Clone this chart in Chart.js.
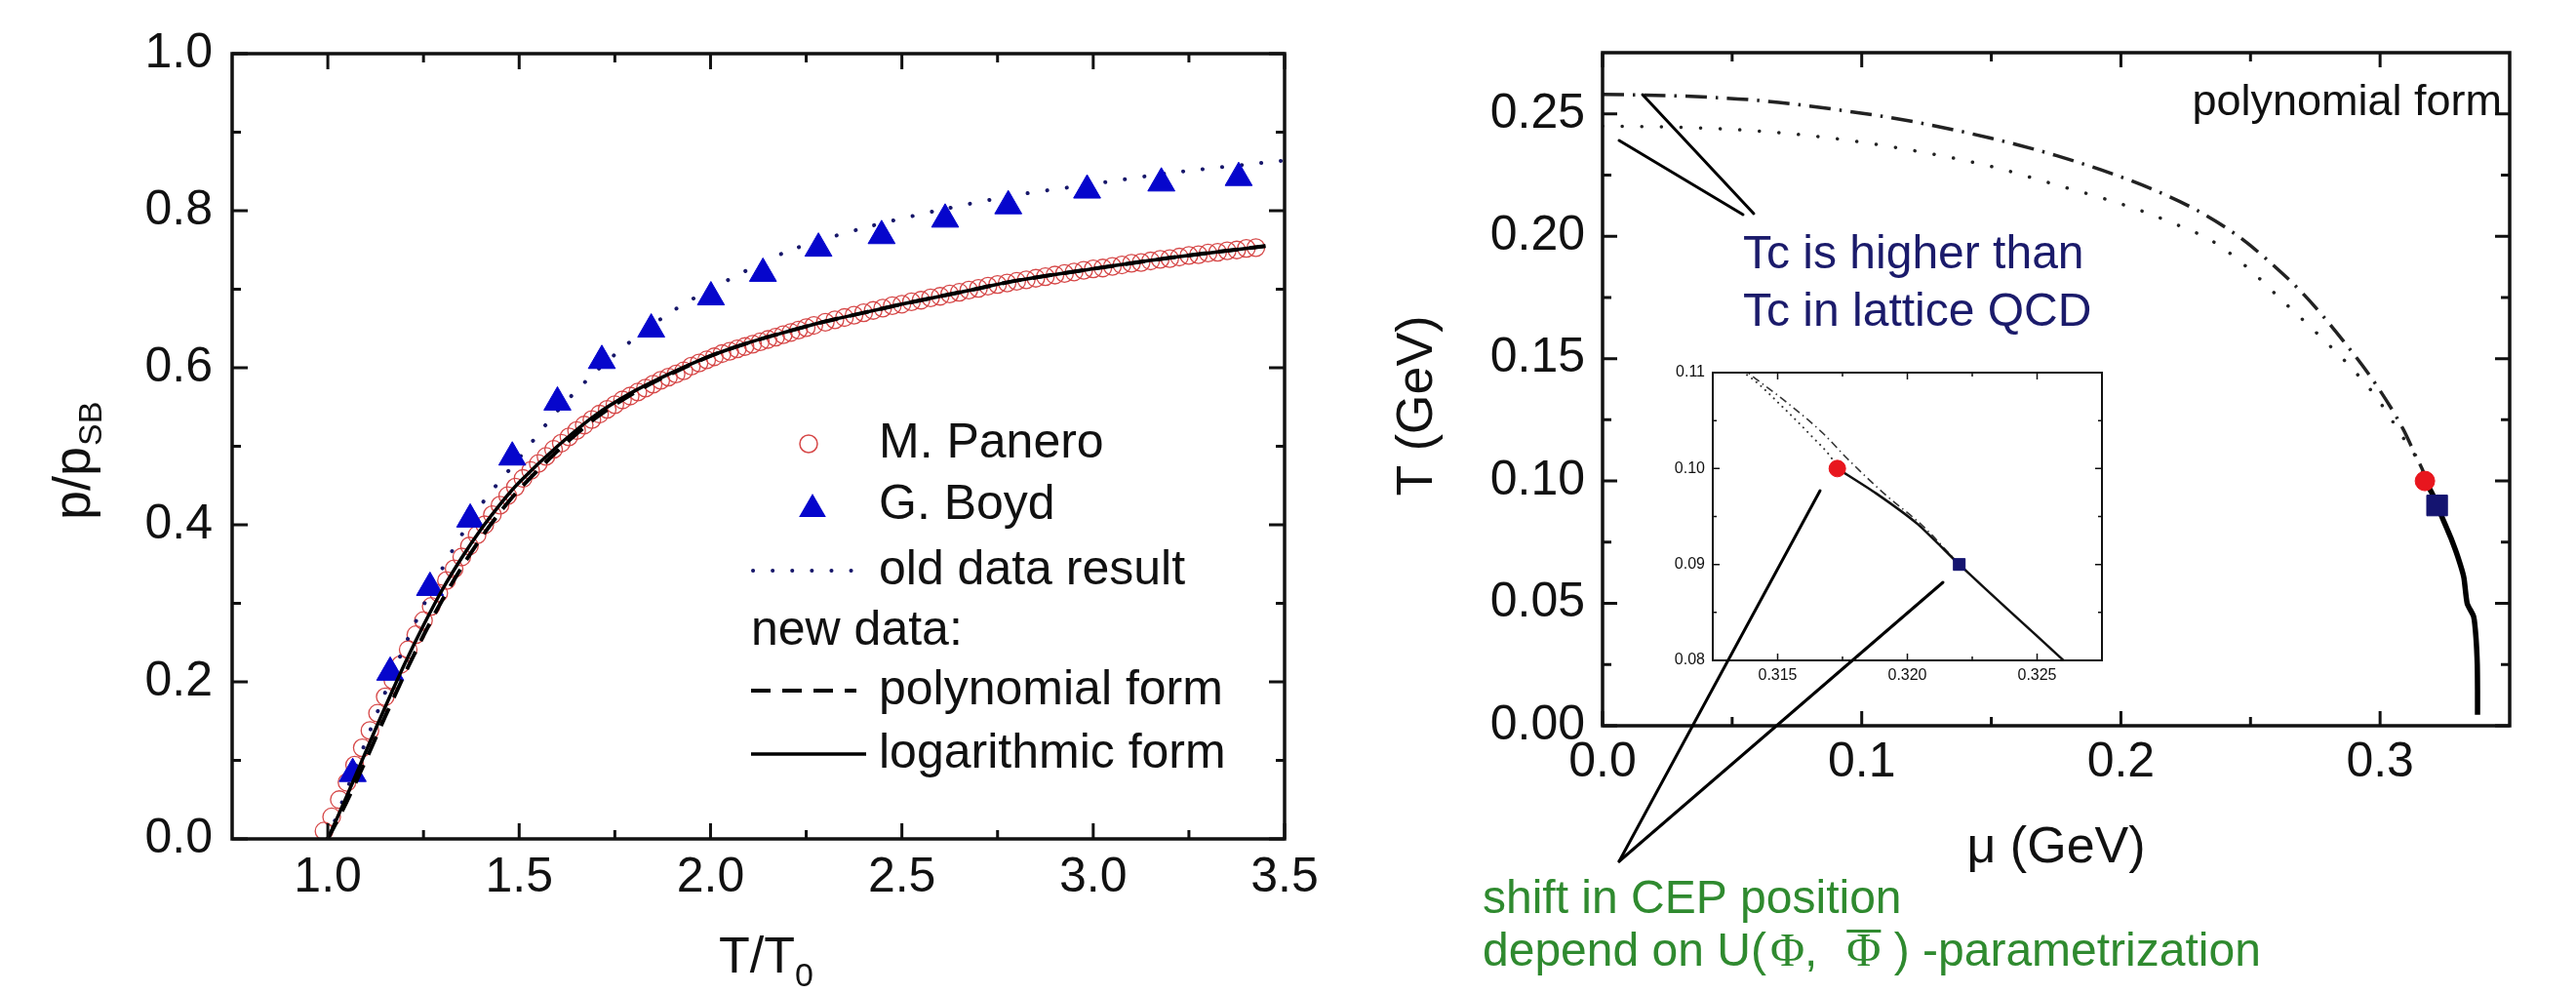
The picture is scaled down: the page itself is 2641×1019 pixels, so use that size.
<!DOCTYPE html>
<html>
<head>
<meta charset="utf-8">
<script src="https://cdn.jsdelivr.net/npm/chart.js@4.4.1/dist/chart.umd.min.js"></script>
<style>
  html, body { margin: 0; padding: 0; background: #fff; }
  #wrap { position: relative; width: 2641px; height: 1019px; overflow: hidden; background: #fff; }
  canvas { position: absolute; }
  #pressure { left: 0; top: 0; }
  #zoom { left: 1700px; top: 360px; }
  #phase { left: 1380px; top: 0; }
</style>
</head>
<body>
<div id="wrap">
  <canvas id="pressure" width="1380" height="1019"></canvas>
  <canvas id="zoom" width="480" height="360"></canvas>
  <canvas id="phase" width="1261" height="1019"></canvas>
</div>
<script>
// ---- left panel: p/p_SB against T/T0 ----
const paneroT = [0.99,1.01,1.03,1.05,1.07,1.09,1.11,1.13,1.15,1.17,1.19,1.21,1.23,1.25,1.27,1.29,1.31,1.33,1.35,1.37,1.39,1.41,1.43,1.45,1.47,1.49,
  1.51,1.53,1.55,1.57,1.59,1.61,1.63,1.65,1.67,1.69,1.71,1.73,1.75,1.77,1.79,1.81,1.83,1.85,1.87,1.89,1.91,1.93,1.95,1.97,1.99,
  2.01,2.03,2.05,2.07,2.09,2.11,2.13,2.15,2.17,2.19,2.21,2.23,2.25,2.27,
  2.300,2.325,2.350,2.375,2.400,2.425,2.450,2.475,2.500,2.525,2.550,2.575,2.600,2.625,2.650,2.675,2.700,2.725,2.750,2.775,
  2.800,2.825,2.850,2.875,2.900,2.925,2.950,2.975,3.000,3.025,3.050,3.075,3.100,3.125,3.150,3.175,3.200,3.225,3.250,3.275,
  3.300,3.325,3.350,3.375,3.400,3.425];
const paneroP = [0.010,0.028,0.050,0.072,0.094,0.116,0.138,0.160,0.181,0.202,0.222,0.241,0.260,0.278,0.296,0.313,0.329,0.344,0.359,0.373,0.387,0.400,0.413,0.425,0.437,0.448,
  0.459,0.469,0.478,0.487,0.496,0.504,0.512,0.520,0.527,0.534,0.541,0.547,0.553,0.559,0.564,0.569,0.574,0.579,0.584,0.588,0.592,0.596,0.602,0.606,0.610,
  0.614,0.618,0.621,0.624,0.627,0.630,0.633,0.636,0.639,0.642,0.645,0.648,0.651,0.654,
  0.658,0.661,0.664,0.667,0.670,0.673,0.676,0.679,0.681,0.684,0.686,0.689,0.691,0.694,0.696,0.699,0.701,0.704,0.706,0.708,
  0.710,0.712,0.714,0.716,0.718,0.720,0.722,0.724,0.726,0.727,0.729,0.731,0.733,0.734,0.736,0.738,0.739,0.741,0.743,0.744,
  0.746,0.747,0.749,0.750,0.752,0.753];

const boydT = [1.065,1.163,1.267,1.372,1.482,1.600,1.716,1.845,2.001,2.137,2.282,2.447,2.613,2.778,2.984,3.178,3.380];
const boydP = [0.083,0.212,0.320,0.407,0.486,0.556,0.609,0.649,0.690,0.720,0.752,0.768,0.789,0.806,0.826,0.835,0.842];

const oldFitT = [1.00,1.10,1.20,1.30,1.40,1.50,1.60,1.70,1.80,1.90,2.00,2.20,2.40,2.60,2.80,3.00,3.20,3.50];
const oldFitP = [0.000,0.125,0.245,0.345,0.425,0.485,0.545,0.595,0.637,0.672,0.700,0.748,0.778,0.801,0.820,0.834,0.848,0.864];

const newFitT = [1.00,1.05,1.10,1.15,1.20,1.25,1.30,1.35,1.40,1.45,1.50,1.60,1.70,1.80,1.90,2.00,2.10,2.20,2.30,2.40,2.50,2.60,2.70,2.80,3.00,3.20,3.45];
const polyFitP = [0.000,0.048,0.101,0.156,0.209,0.259,0.305,0.346,0.383,0.416,0.445,0.494,0.536,0.568,0.593,0.615,0.632,0.646,0.659,0.670,0.681,0.691,0.701,0.711,0.726,0.740,0.755];
const logFitP = [0.000,0.055,0.112,0.168,0.222,0.272,0.318,0.358,0.394,0.426,0.454,0.500,0.540,0.570,0.594,0.615,0.632,0.646,0.659,0.670,0.681,0.691,0.701,0.711,0.726,0.740,0.755];

const pressureXTicks = [1.0,1.5,2.0,2.5,3.0,3.5];
const pressureXMinor = [1.25,1.75,2.25,2.75,3.25];
const pressureYTicks = [0.0,0.2,0.4,0.6,0.8,1.0];
const pressureYMinor = [0.1,0.3,0.5,0.7,0.9];

// ---- right panel: phase diagram T against mu ----
const dashDotMu = [0.000,0.030,0.060,0.089,0.120,0.150,0.175,0.198,0.213,0.229,0.244,0.256,0.271,0.286,0.299,0.309,0.3140,0.3154,0.3167,0.3177,0.3191,0.3206,0.3220];
const dashDotT = [0.2580,0.2573,0.2555,0.2519,0.2468,0.2400,0.2330,0.2250,0.2188,0.2108,0.2010,0.1908,0.1757,0.1570,0.1385,0.1210,0.1097,0.1068,0.1038,0.1010,0.0974,0.0940,0.0900];

const dottedMu = [0.000,0.030,0.060,0.089,0.120,0.150,0.175,0.194,0.207,0.222,0.235,0.2485,0.261,0.276,0.2887,0.2987,0.3087,0.3140,0.3152,0.3163,0.3171,0.3173];
const dottedT = [0.2450,0.2445,0.2430,0.2400,0.2350,0.2285,0.2210,0.2152,0.2107,0.2045,0.1982,0.1875,0.1750,0.1600,0.1465,0.1340,0.1180,0.1094,0.1064,0.1034,0.1010,0.1000];

const firstOrderMu = [0.3173,0.3188,0.3204,0.3220,0.3240,0.3259,0.3273,0.3300,0.3323,0.3336,0.3361,0.3370,0.3375,0.3376,0.3376];
const firstOrderT = [0.1000,0.0974,0.0942,0.0900,0.0850,0.0803,0.0768,0.0690,0.0607,0.0500,0.0446,0.0360,0.0250,0.0143,0.0045];

const cepRedMu = [0.3173], cepRedT = [0.1000];
const cepBlueMu = [0.3220], cepBlueT = [0.0900];

const phaseXTicks = [0.0,0.1,0.2,0.3];
const phaseXMinor = [0.05,0.15,0.25];
const phaseYTicks = [0.00,0.05,0.10,0.15,0.20,0.25];
const phaseYMinor = [0.025,0.075,0.125,0.175,0.225];

const zoomXTicks = [0.315,0.320,0.325];
const zoomXMinor = [0.3175,0.3225];
const zoomYTicks = [0.08,0.09,0.10,0.11];
const zoomYMinor = [0.085,0.095,0.105];

const FONT = "'Liberation Sans', Arial, sans-serif";
const SERIF = "'Liberation Serif', 'DejaVu Serif', serif";
const INK = '#111';
const PANERO_RED = 'rgb(214,72,72)';
const BOYD_BLUE = '#0606cc';
const OLD_DOTS = '#17176a';
const CEP_RED = '#e8161e';
const CEP_BLUE = '#141470';
const NOTE_BLUE = '#1b1b6b';
const NOTE_GREEN = '#2f8a2f';

const xy = (xs, ys) => xs.map((v, i) => ({x: v, y: ys[i]}));

// frame box with inward ticks on all four sides
const framePlugin = {
  id: 'frame',
  afterDatasetsDraw(chart, args, o) {
    const {ctx, chartArea: a, scales: {x, y}} = chart;
    ctx.save();
    ctx.strokeStyle = INK;
    ctx.lineWidth = o.tickWidth;
    ctx.beginPath();
    const xSets = [[x.ticks.map(t => t.value), o.major], [o.xMinor, o.minor]];
    for (const [vals, len] of xSets) {
      for (const v of vals) {
        const px = x.getPixelForValue(v);
        ctx.moveTo(px, a.bottom); ctx.lineTo(px, a.bottom - len);
        ctx.moveTo(px, a.top); ctx.lineTo(px, a.top + len);
      }
    }
    const ySets = [[y.ticks.map(t => t.value), o.major], [o.yMinor, o.minor]];
    for (const [vals, len] of ySets) {
      for (const v of vals) {
        const py = y.getPixelForValue(v);
        ctx.moveTo(a.left, py); ctx.lineTo(a.left + len, py);
        ctx.moveTo(a.right, py); ctx.lineTo(a.right - len, py);
      }
    }
    ctx.stroke();
    ctx.lineWidth = o.frameWidth;
    ctx.strokeRect(a.left, a.top, a.right - a.left, a.bottom - a.top);
    ctx.restore();
  }
};

function axisOpts(min, max, tickList, fontSize, pad, digits, fitSize, isX) {
  return {
    type: 'linear', min: min, max: max,
    grid: {display: false, drawTicks: false},
    border: {display: false},
    ticks: {
      font: {family: FONT, size: fontSize}, color: INK, padding: pad,
      maxRotation: 0, autoSkip: false,
      callback: v => Number(v).toFixed(digits)
    },
    afterBuildTicks: s => { s.ticks = tickList.map(v => ({value: v})); },
    afterFit: s => {
      if (isX) s.height = fitSize; else s.width = fitSize;
      s.paddingLeft = 0; s.paddingRight = 0; s.paddingTop = 0; s.paddingBottom = 0;
    }
  };
}

function baseOptions(padding, frame) {
  return {
    responsive: false, animation: false, devicePixelRatio: 1, events: [],
    layout: {autoPadding: false, padding: padding},
    plugins: {legend: {display: false}, tooltip: {enabled: false}, frame: frame}
  };
}

function triangle(ctx, x, y, r) {
  ctx.beginPath();
  ctx.moveTo(x, y - r);
  ctx.lineTo(x + r * 0.866, y + r / 2);
  ctx.lineTo(x - r * 0.866, y + r / 2);
  ctx.closePath();
  ctx.fill();
}

// legend and axis titles of the left panel
const pressureNotes = {
  id: 'pressureNotes',
  afterDraw(chart) {
    const ctx = chart.ctx;
    const ds = chart.data.datasets;
    ctx.save();
    ctx.font = `50px ${FONT}`;
    ctx.textBaseline = 'middle';

    ctx.strokeStyle = PANERO_RED; ctx.lineWidth = 1.5;
    ctx.beginPath(); ctx.arc(829, 455, 9, 0, Math.PI * 2); ctx.stroke();
    ctx.fillStyle = BOYD_BLUE; triangle(ctx, 833, 522, 16);

    ctx.lineCap = 'round'; ctx.strokeStyle = OLD_DOTS; ctx.lineWidth = 4;
    ctx.setLineDash([0.1, 20]);
    ctx.beginPath(); ctx.moveTo(772, 585); ctx.lineTo(880, 585); ctx.stroke();
    ctx.lineCap = 'butt'; ctx.strokeStyle = '#000';
    ctx.setLineDash([20, 12]);
    ctx.beginPath(); ctx.moveTo(770, 708); ctx.lineTo(878, 708); ctx.stroke();
    ctx.setLineDash([]); ctx.lineWidth = 3.5;
    ctx.beginPath(); ctx.moveTo(770, 773); ctx.lineTo(888, 773); ctx.stroke();

    ctx.fillStyle = INK;
    ctx.fillText(ds[0].label, 901, 455);
    ctx.fillText(ds[1].label, 901, 518);
    ctx.fillText(ds[2].label, 901, 585);
    ctx.fillText('new data:', 770, 647);
    ctx.fillText(ds[3].label, 901, 708);
    ctx.fillText(ds[4].label, 901, 773);

    // x title T/T0
    ctx.textBaseline = 'alphabetic';
    ctx.font = `52px ${FONT}`;
    ctx.fillText('T/T', 737, 997);
    const w = ctx.measureText('T/T').width;
    ctx.font = `34px ${FONT}`;
    ctx.fillText('0', 737 + w, 1011);

    // y title p/p_SB
    ctx.translate(92, 533);
    ctx.rotate(-Math.PI / 2);
    ctx.font = `54px ${FONT}`;
    ctx.fillText('p/p', 0, 0);
    const w2 = ctx.measureText('p/p').width;
    ctx.font = `34px ${FONT}`;
    ctx.fillText('SB', w2 + 1, 12);
    ctx.restore();
  }
};

new Chart(document.getElementById('pressure'), {
  type: 'scatter',
  data: {
    datasets: [
      {label: 'M. Panero', data: xy(paneroT, paneroP), pointStyle: 'circle', pointRadius: 9,
       borderColor: PANERO_RED, backgroundColor: 'rgba(255,255,255,0)', pointBorderWidth: 1.3, order: 5},
      {label: 'G. Boyd', data: xy(boydT, boydP), pointStyle: 'triangle', pointRadius: 16,
       borderColor: BOYD_BLUE, backgroundColor: BOYD_BLUE, pointBorderWidth: 1, order: 3},
      {label: 'old data result', data: xy(oldFitT, oldFitP), showLine: true, pointRadius: 0,
       borderColor: OLD_DOTS, borderWidth: 4, borderDash: [0.1, 20], borderCapStyle: 'round', tension: 0.3, order: 4},
      {label: 'polynomial form', data: xy(newFitT, polyFitP), showLine: true, pointRadius: 0,
       borderColor: '#000', borderWidth: 4, borderDash: [20, 12], tension: 0.3, order: 2},
      {label: 'logarithmic form', data: xy(newFitT, logFitP), showLine: true, pointRadius: 0,
       borderColor: '#000', borderWidth: 3.5, tension: 0.3, order: 1}
    ]
  },
  options: Object.assign(baseOptions({left: 0, top: 55, right: 63, bottom: 0},
      {tickWidth: 3, frameWidth: 3.5, major: 16, minor: 9, xMinor: pressureXMinor, yMinor: pressureYMinor}), {
    scales: {
      x: axisOpts(0.75, 3.5, pressureXTicks, 50, 10, 1, 159, true),
      y: axisOpts(0, 1, pressureYTicks, 50, 20, 1, 238, false)
    }
  }),
  plugins: [framePlugin, pressureNotes]
});

// ---- inset ----
new Chart(document.getElementById('zoom'), {
  type: 'scatter',
  data: {
    datasets: [
      {label: 'CEP a', data: xy(cepRedMu, cepRedT), pointStyle: 'circle', pointRadius: 8.5,
       backgroundColor: CEP_RED, borderColor: CEP_RED, order: 1},
      {label: 'CEP b', data: xy(cepBlueMu, cepBlueT), pointStyle: 'rect', pointRadius: 8.5,
       backgroundColor: CEP_BLUE, borderColor: CEP_BLUE, order: 1},
      {label: 'crossover a', data: xy(dottedMu, dottedT), showLine: true, pointRadius: 0,
       borderColor: '#333', borderWidth: 2, borderDash: [0.1, 6], borderCapStyle: 'round',
       cubicInterpolationMode: 'monotone', order: 3},
      {label: 'crossover b', data: xy(dashDotMu, dashDotT), showLine: true, pointRadius: 0,
       borderColor: '#333', borderWidth: 1.6, borderDash: [8, 4, 1.5, 4],
       cubicInterpolationMode: 'monotone', order: 3},
      {label: 'first order', data: xy(firstOrderMu, firstOrderT), showLine: true, pointRadius: 0,
       borderColor: '#111', borderWidth: 2.5, tension: 0.2, order: 2}
    ]
  },
  options: Object.assign(baseOptions({left: 0, top: 22, right: 25, bottom: 0},
      {tickWidth: 1.5, frameWidth: 2, major: 7, minor: 4, xMinor: zoomXMinor, yMinor: zoomYMinor}), {
    scales: {
      x: axisOpts(0.3125, 0.3275, zoomXTicks, 16, 6, 3, 43, true),
      y: axisOpts(0.08, 0.11, zoomYTicks, 16, 8, 2, 56, false)
    }
  }),
  plugins: [framePlugin]
});

// ---- right panel annotations ----
const phaseNotes = {
  id: 'phaseNotes',
  afterDraw(chart) {
    const ctx = chart.ctx;
    ctx.save();
    ctx.strokeStyle = '#000';
    ctx.lineWidth = 3;
    ctx.lineCap = 'round';
    const seg = (x1, y1, x2, y2) => { ctx.beginPath(); ctx.moveTo(x1, y1); ctx.lineTo(x2, y2); ctx.stroke(); };
    seg(304, 97, 418, 219);
    seg(280, 144, 407, 220);
    seg(280, 883, 486, 503);
    seg(280, 883, 612, 597);

    ctx.fillStyle = INK;
    ctx.font = `45px ${FONT}`;
    ctx.textAlign = 'right';
    ctx.fillText('polynomial form', 1185, 118);

    ctx.textAlign = 'left';
    ctx.fillStyle = NOTE_BLUE;
    ctx.font = `48px ${FONT}`;
    ctx.fillText('Tc is higher than', 407, 275);
    ctx.fillText('Tc in lattice QCD', 407, 334);

    ctx.fillStyle = INK;
    ctx.font = `52px ${FONT}`;
    ctx.textAlign = 'center';
    ctx.fillText('\u03BC (GeV)', 728, 884);

    // green note, second line built from runs so the bar can sit over Phi
    ctx.textAlign = 'left';
    ctx.fillStyle = NOTE_GREEN;
    ctx.font = `48px ${FONT}`;
    ctx.fillText('shift in CEP position', 140, 936);
    let x = 140;
    const run = (str, font, gap) => {
      ctx.font = font;
      ctx.fillText(str, x, 990);
      const w = ctx.measureText(str).width;
      const start = x;
      x += w + (gap || 0);
      return [start, w];
    };
    run('depend on U(', `48px ${FONT}`, 4);
    run('\u03A6', `48px ${SERIF}`, 0);
    run(',', `48px ${FONT}`, 30);
    const [bx, bw] = run('\u03A6', `48px ${SERIF}`, 0);
    ctx.fillRect(bx, 953, bw, 3);
    run(' ) -parametrization', `48px ${FONT}`, 0);

    ctx.fillStyle = INK;
    ctx.font = `52px ${FONT}`;
    ctx.translate(88, 416);
    ctx.rotate(-Math.PI / 2);
    ctx.textAlign = 'center';
    ctx.fillText('T (GeV)', 0, 0);
    ctx.restore();
  }
};

new Chart(document.getElementById('phase'), {
  type: 'scatter',
  data: {
    datasets: [
      {label: 'CEP a', data: xy(cepRedMu, cepRedT), pointStyle: 'circle', pointRadius: 10,
       backgroundColor: CEP_RED, borderColor: CEP_RED, order: 1},
      {label: 'CEP b', data: xy(cepBlueMu, cepBlueT), pointStyle: 'rect', pointRadius: 15,
       backgroundColor: CEP_BLUE, borderColor: CEP_BLUE, order: 1},
      {label: 'crossover a', data: xy(dottedMu, dottedT), showLine: true, pointRadius: 0,
       borderColor: '#222', borderWidth: 3.5, borderDash: [0.1, 20], borderCapStyle: 'round',
       cubicInterpolationMode: 'monotone', order: 3},
      {label: 'crossover b', data: xy(dashDotMu, dashDotT), showLine: true, pointRadius: 0,
       borderColor: '#222', borderWidth: 3.5, borderDash: [22, 9, 2.5, 9],
       cubicInterpolationMode: 'monotone', order: 3},
      {label: 'first order', data: xy(firstOrderMu, firstOrderT), showLine: true, pointRadius: 0,
       borderColor: '#000', borderWidth: 5.5, tension: 0.2, order: 2}
    ]
  },
  options: Object.assign(baseOptions({left: 0, top: 54, right: 68, bottom: 0},
      {tickWidth: 3, frameWidth: 3.5, major: 15, minor: 9, xMinor: phaseXMinor, yMinor: phaseYMinor}), {
    scales: {
      x: axisOpts(0, 0.35, phaseXTicks, 50, 8, 1, 275, true),
      y: axisOpts(0, 0.275, phaseYTicks, 50, 18, 2, 263, false)
    }
  }),
  plugins: [framePlugin, phaseNotes]
});
</script>
</body>
</html>
